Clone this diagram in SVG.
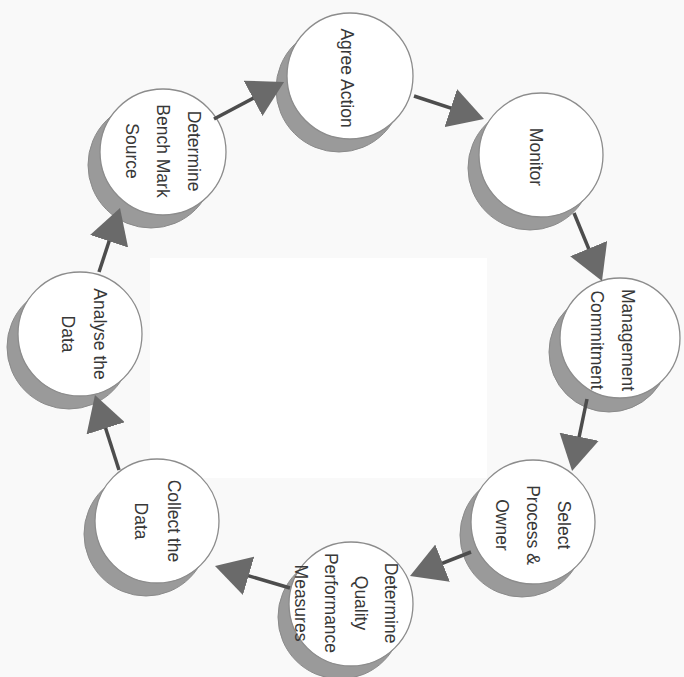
<svg xmlns="http://www.w3.org/2000/svg" width="684" height="677" viewBox="0 0 684 677">
  <style>
    .shadow { fill: #9a9a9a; stroke: #8a8a8a; stroke-width: 1; }
    .disc { fill: #ffffff; stroke: #8c8c8c; stroke-width: 1.3; }
    .label { font-family: "Liberation Sans", Arial, sans-serif; font-size: 17.5px; fill: #383838; text-anchor: middle; }
    .conn { stroke: #4d4d4d; stroke-width: 3.5; fill: none; marker-end: url(#head); }
  </style>
  <defs>
    <marker id="head" viewBox="0 0 35 40" refX="25" refY="20" markerWidth="35" markerHeight="40" markerUnits="userSpaceOnUse" orient="auto">
      <path d="M0,0 L35,20 L0,40 Z" fill="#6a6a6a"/>
    </marker>
  </defs>
  <rect x="0" y="0" width="684" height="677" fill="#f9f9f9"/>
  <rect x="150" y="258" width="337" height="220" fill="#ffffff"/>

  <g id="agree-action">
    <circle class="shadow" cx="339" cy="89" r="63"/>
    <circle class="disc" cx="350" cy="76" r="63"/>
    <text class="label" transform="translate(347,78) rotate(90)"><tspan x="0" y="6">Agree Action</tspan></text>
  </g>
  <g id="monitor">
    <circle class="shadow" cx="530" cy="168" r="62"/>
    <circle class="disc" cx="541" cy="155" r="62"/>
    <text class="label" transform="translate(536,157) rotate(90)"><tspan x="0" y="6">Monitor</tspan></text>
  </g>
  <g id="management-commitment">
    <circle class="shadow" cx="609" cy="352" r="60"/>
    <circle class="disc" cx="620" cy="338" r="60"/>
    <text class="label" transform="translate(612,340) rotate(90)"><tspan x="0" y="-9.5">Management</tspan><tspan x="0" y="21.5">Commitment</tspan></text>
  </g>
  <g id="select-process-owner">
    <circle class="shadow" cx="522" cy="535" r="62"/>
    <circle class="disc" cx="533" cy="522" r="62"/>
    <text class="label" transform="translate(533,525) rotate(90)"><tspan x="0" y="-25">Select</tspan><tspan x="0" y="6">Process &amp;</tspan><tspan x="0" y="37">Owner</tspan></text>
  </g>
  <g id="determine-quality-measures">
    <circle class="shadow" cx="340" cy="617" r="62"/>
    <circle class="disc" cx="351" cy="604" r="62"/>
    <text class="label" transform="translate(346,603) rotate(90)"><tspan x="0" y="-39">Determine</tspan><tspan x="0" y="-9">Quality</tspan><tspan x="0" y="21">Performance</tspan><tspan x="0" y="51">Measures</tspan></text>
  </g>
  <g id="collect-the-data">
    <circle class="shadow" cx="146" cy="534" r="62"/>
    <circle class="disc" cx="157" cy="521" r="62"/>
    <text class="label" transform="translate(157,521) rotate(90)"><tspan x="0" y="-11">Collect the</tspan><tspan x="0" y="22">Data</tspan></text>
  </g>
  <g id="analyse-the-data">
    <circle class="shadow" cx="69" cy="347" r="62"/>
    <circle class="disc" cx="80" cy="334" r="62"/>
    <text class="label" transform="translate(84,334) rotate(90)"><tspan x="0" y="-10">Analyse the</tspan><tspan x="0" y="22">Data</tspan></text>
  </g>
  <g id="determine-bench-mark">
    <circle class="shadow" cx="151" cy="165" r="63"/>
    <circle class="disc" cx="163" cy="152" r="63"/>
    <text class="label" transform="translate(163,151) rotate(90)"><tspan x="0" y="-25">Determine</tspan><tspan x="0" y="6">Bench Mark</tspan><tspan x="0" y="37">Source</tspan></text>
  </g>

  <g id="connectors">
    <line class="conn" x1="214" y1="119" x2="275.2" y2="86.7"/>
    <line class="conn" x1="414" y1="96" x2="474.5" y2="115.9"/>
    <line class="conn" x1="574" y1="213" x2="598.2" y2="271.7"/>
    <line class="conn" x1="587" y1="399" x2="574.1" y2="461.2"/>
    <line class="conn" x1="471" y1="552" x2="419.3" y2="572.3"/>
    <line class="conn" x1="290" y1="588" x2="224.6" y2="568.8"/>
    <line class="conn" x1="119" y1="470" x2="98.0" y2="404.5"/>
    <line class="conn" x1="99" y1="272" x2="116.9" y2="217.5"/>
  </g>
</svg>
